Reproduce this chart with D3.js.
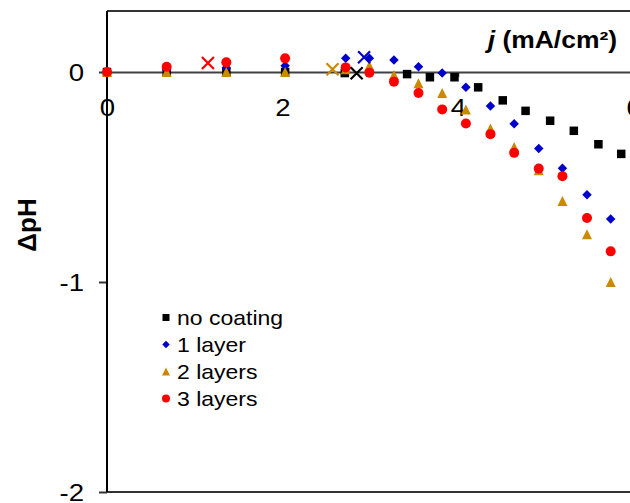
<!DOCTYPE html>
<html>
<head>
<meta charset="utf-8">
<script src="https://cdn.jsdelivr.net/npm/d3@7"></script>
<style>
  body { margin: 0; background: #fff; }
  svg { display: block; }
</style>
</head>
<body>
<script>
var w = 630;
var h = 503;

// current density steps (mA/cm2) shared by the coated samples
var jCoated = [0, 0.68, 1.36, 2.03, 2.72, 2.99, 3.27, 3.55, 3.82, 4.09, 4.37, 4.64, 4.92, 5.19, 5.47, 5.74];
// the uncoated sample was stepped on its own grid
var jBare = [0, 0.68, 1.36, 2.03, 2.71, 3.42, 3.68, 3.96, 4.23, 4.51, 4.77, 5.05, 5.32, 5.6, 5.86];

var dpHBare = [0, 0, 0, 0, -0.005, -0.01, -0.025, -0.025, -0.073, -0.135, -0.185, -0.232, -0.28, -0.344, -0.39];
var dpH1 = [0, 0.01, 0.02, 0.03, 0.065, 0.065, 0.057, 0.025, -0.005, -0.073, -0.162, -0.246, -0.364, -0.458, -0.584, -0.70];
var dpH2 = [0, 0, 0, 0, 0.013, 0.03, -0.014, -0.054, -0.10, -0.178, -0.269, -0.357, -0.468, -0.614, -0.773, -1.0];
var dpH3 = [0, 0.025, 0.046, 0.065, 0.022, -0.003, -0.046, -0.10, -0.178, -0.245, -0.296, -0.385, -0.46, -0.496, -0.695, -0.854];

// onset points (cross markers), one per sample
var onsetNames = ["no coating", "1 layer", "2 layers", "3 layers"];
var onsetJ = [2.845, 2.93, 2.57, 1.15];
var onsetPH = [-0.006, 0.07, 0.013, 0.043];

var seriesNames = ["no coating", "1 layer", "2 layers", "3 layers"];
var seriesColors = ["#000000", "#0000cc", "#cc8800", "#ff0000"];
var seriesShapes = ["square", "diamond", "triangle", "circle"];

var xTicks = [0, 2, 4, 6];
var yTicks = [0, -1, -2];
var xDomain = [0, 6];
var yDomain = [-2, 0.29];

// text in this figure is drawn a little wider than the font
var stretch = 1.15;

var x = d3.scaleLinear().domain(xDomain).range([107, 633.5]);
var y = d3.scaleLinear().domain([-2, 0]).range([492, 72]);

var svg = d3.select("body").append("svg")
  .attr("width", w)
  .attr("height", h)
  .style("font-family", "'Liberation Sans', Arial, sans-serif");

// marker path centred on its bounding box
function shapePath(shape, s) {
  var r = s / 2;
  if (shape == "square") {
    return "M" + (-r) + "," + (-r) + "h" + s + "v" + s + "h" + (-s) + "Z";
  } else if (shape == "diamond") {
    return "M0," + (-r) + "L" + r + ",0L0," + r + "L" + (-r) + ",0Z";
  } else if (shape == "triangle") {
    return "M0," + (-r) + "L" + r + "," + r + "L" + (-r) + "," + r + "Z";
  }
  return d3.arc()({innerRadius: 0, outerRadius: r, startAngle: 0, endAngle: 2 * Math.PI});
}

// frame: top and bottom borders
svg.append("line")
  .attr("x1", x(0)).attr("x2", w)
  .attr("y1", y(yDomain[1])).attr("y2", y(yDomain[1]))
  .attr("stroke", "#333").attr("stroke-width", 2);
svg.append("line")
  .attr("x1", x(0)).attr("x2", w)
  .attr("y1", y(-2)).attr("y2", y(-2))
  .attr("stroke", "#333").attr("stroke-width", 2);

// x axis sits on the zero line
var xAxis = svg.append("g")
  .attr("transform", "translate(0," + y(0) + ")")
  .call(d3.axisBottom(x).tickValues(xTicks).tickSize(5).tickSizeOuter(0).tickFormat(function(d) { return String(d); }));
xAxis.select(".domain").attr("stroke", "#404040").attr("stroke-width", 2);
xAxis.selectAll(".tick line").attr("stroke", "#404040").attr("stroke-width", 1.5);
xAxis.selectAll(".tick text")
  .attr("y", 27)
  .attr("fill", "#000")
  .attr("transform", "scale(" + stretch + ",1)")
  .style("font-size", "24px");

// y axis
var yAxis = svg.append("g")
  .attr("transform", "translate(" + x(0) + ",0)")
  .call(d3.axisLeft(y).tickValues(yTicks).tickSize(8).tickSizeOuter(0).tickFormat(function(d) { return String(d); }));
yAxis.select(".domain").remove();
yAxis.append("line")
  .attr("y1", y(yDomain[1])).attr("y2", y(-2))
  .attr("stroke", "#000").attr("stroke-width", 2);
yAxis.selectAll(".tick line").attr("stroke", "#333").attr("stroke-width", 2);
yAxis.selectAll(".tick text")
  .attr("x", -23 / stretch)
  .attr("dy", "0.36em")
  .attr("fill", "#000")
  .attr("transform", "scale(" + stretch + ",1)")
  .style("font-size", "24px");

// axis titles
svg.append("text")
  .attr("transform", "translate(36,225) rotate(-90)")
  .attr("text-anchor", "middle")
  .style("font-size", "26px")
  .style("font-weight", "bold")
  .text("ΔpH");

var xTitle = svg.append("text")
  .attr("transform", "translate(617,48) scale(" + stretch + ",1)")
  .attr("text-anchor", "end")
  .style("font-size", "23px")
  .style("font-weight", "bold");
xTitle.append("tspan").style("font-style", "italic").text("j");
xTitle.append("tspan").text(" (mA/cm²)");

// data points
var seriesData = [
  jBare.map(function(j, i) { return [j, dpHBare[i]]; }),
  jCoated.map(function(j, i) { return [j, dpH1[i]]; }),
  jCoated.map(function(j, i) { return [j, dpH2[i]]; }),
  jCoated.map(function(j, i) { return [j, dpH3[i]]; })
];
var markerSize = [8.5, 9.5, 10, 10];

seriesData.forEach(function(points, k) {
  svg.append("g").selectAll("path")
    .data(points)
    .enter().append("path")
    .attr("transform", function(d) { return "translate(" + x(d[0]) + "," + y(d[1]) + ")"; })
    .attr("d", shapePath(seriesShapes[k], markerSize[k]))
    .attr("fill", seriesColors[k]);
});

// onset crosses
svg.append("g").selectAll("path")
  .data(onsetJ.map(function(j, i) { return [j, onsetPH[i], seriesColors[seriesNames.indexOf(onsetNames[i])]]; }))
  .enter().append("path")
  .attr("transform", function(d) { return "translate(" + x(d[0]) + "," + y(d[1]) + ")"; })
  .attr("d", "M-6,-6L6,6M-6,6L6,-6")
  .attr("stroke", function(d) { return d[2]; })
  .attr("stroke-width", 2.2)
  .attr("fill", "none");

// legend
var legend = svg.selectAll(".legend")
  .data(seriesNames)
  .enter().append("g")
  .attr("class", "legend")
  .attr("transform", function(d, i) { return "translate(166," + (317.5 + i * 27) + ")"; });

var legendSize = [7, 7.5, 8, 8];
legend.append("path")
  .attr("d", function(d, i) { return shapePath(seriesShapes[i], legendSize[i]); })
  .attr("fill", function(d, i) { return seriesColors[i]; });

legend.append("text")
  .attr("transform", "translate(11,0) scale(" + stretch + ",1)")
  .attr("dy", "0.36em")
  .style("font-size", "20px")
  .text(function(d) { return d; });
</script>
</body>
</html>
